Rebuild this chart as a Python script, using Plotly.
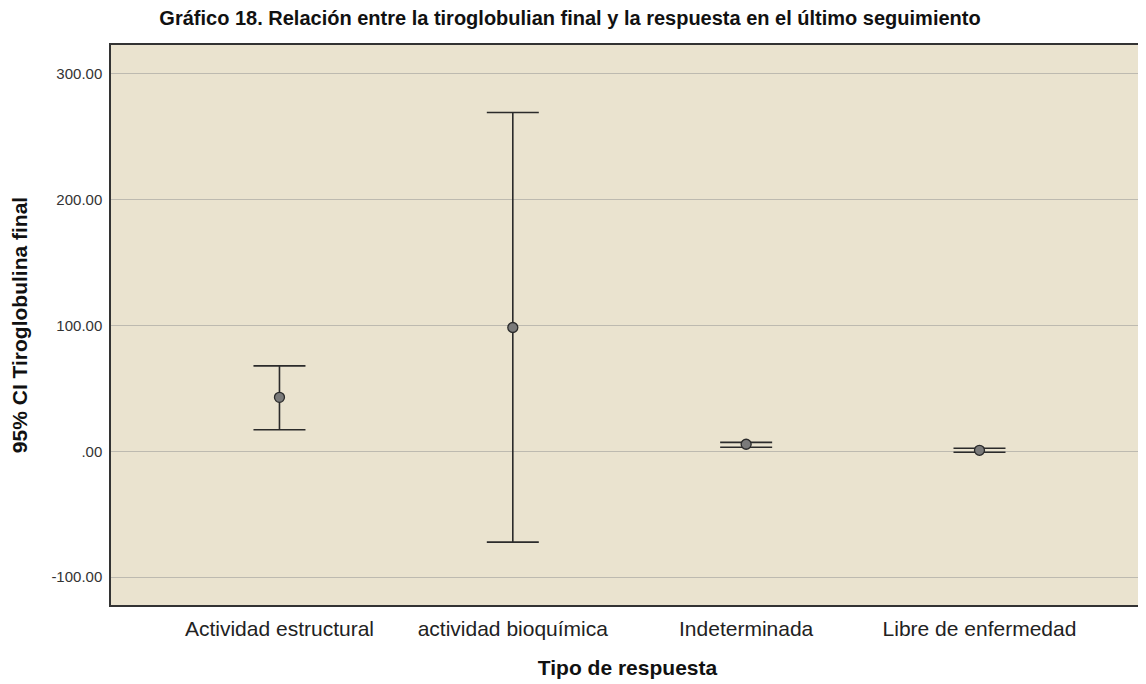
import plotly.graph_objects as go

categories = ["Actividad estructural", "actividad bioquímica", "Indeterminada", "Libre de enfermedad"]
means = [42.9, 98.4, 5.6, 0.8]
upper = [67.9, 269.3, 7.1, 2.4]
lower = [17.1, -72.2, 3.2, -0.8]
ytick_vals = [-100, 0, 100, 200, 300]
ytick_text = ["-100.00", ".00", "100.00", "200.00", "300.00"]

err_plus = [u - m for u, m in zip(upper, means)]
err_minus = [m - l for m, l in zip(means, lower)]

fig = go.Figure()
fig.add_trace(go.Scatter(
    x=list(range(len(categories))), y=means, mode="markers",
    marker=dict(size=10, color="#7a7a7a", line=dict(color="#2b2b2b", width=1.3)),
    error_y=dict(type="data", symmetric=False, array=err_plus, arrayminus=err_minus,
                 color="#2b2b2b", thickness=1.6, width=26),
    showlegend=False,
))

font = "Arial, Liberation Sans, sans-serif"
W, H = 1138, 676
fig.update_layout(
    width=W, height=H,
    margin=dict(l=103, r=0, t=37, b=79),
    paper_bgcolor="white", plot_bgcolor="#EAE3CF",
    title=dict(text="<b>Gráfico 18. Relación entre la tiroglobulian final y la respuesta en el último seguimiento</b>",
               x=(570 - 8) / W, xanchor="center", y=1 - 10 / H, yanchor="middle",
               font=dict(family=font, size=20, color="#111")),
    font=dict(family=font, color="#222"),
)
fig.update_xaxes(
    tickvals=list(range(len(categories))), ticktext=categories,
    range=[-0.722, 3.705], showgrid=False, zeroline=False,
    showline=True, linecolor="#333", linewidth=1.5, mirror=True,
    ticks="", tickfont=dict(size=21, color="#222"), ticklabelstandoff=4,
    title=dict(text="<b>Tipo de respuesta</b>", font=dict(size=21, color="#111"), standoff=21),
)
fig.update_yaxes(
    tickvals=ytick_vals, ticktext=ytick_text, range=[-122.2, 323.0],
    showgrid=True, gridcolor="#BDBAB0", gridwidth=1, zeroline=False,
    showline=True, linecolor="#333", linewidth=1.5, mirror=True,
    ticks="", tickfont=dict(size=15, color="#333"), ticklabelstandoff=4,
    title=dict(text="<b>95% CI Tiroglobulina final</b>", font=dict(size=21, color="#111"), standoff=22),
)
fig.write_html("out.html")
